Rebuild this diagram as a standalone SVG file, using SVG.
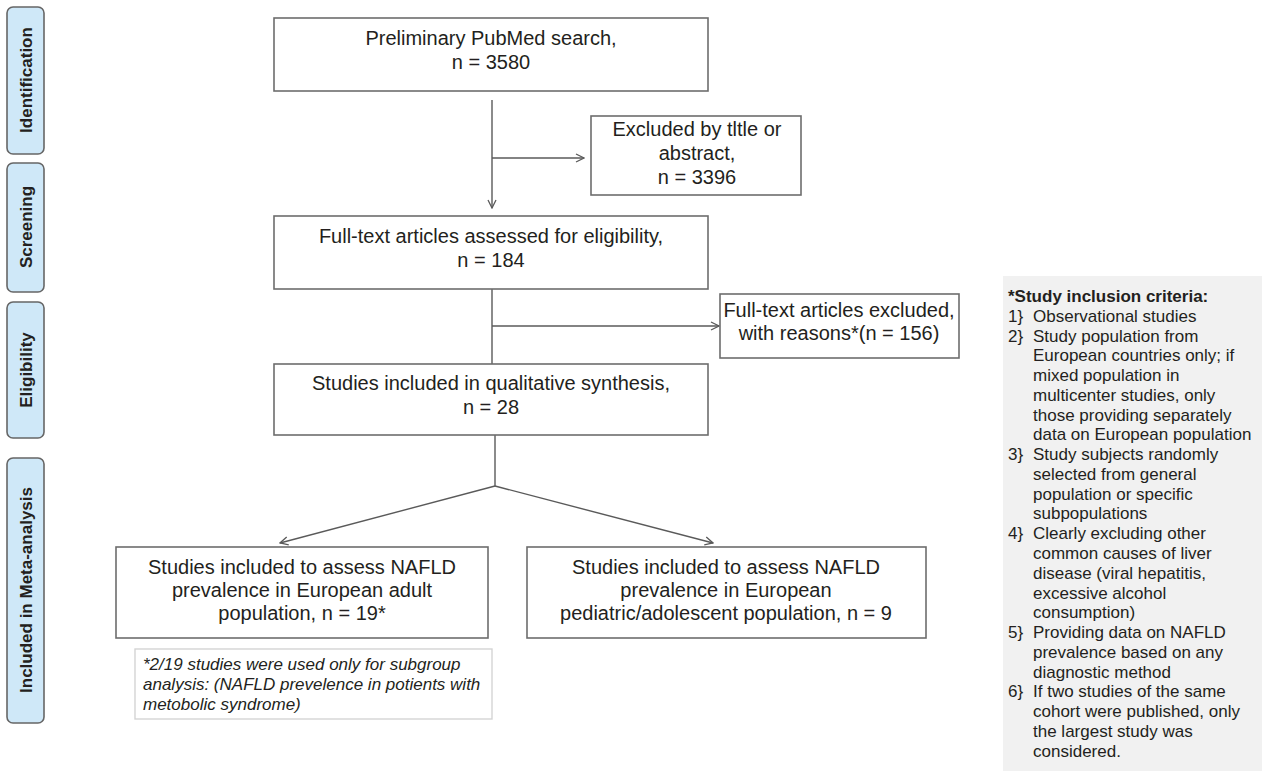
<svg xmlns="http://www.w3.org/2000/svg" width="1264" height="773" viewBox="0 0 1264 773">
<style>
text{font-family:"Liberation Sans",Arial,sans-serif;fill:#231f20}
.box{fill:#fff;stroke:#6d6d6d;stroke-width:1.6}
.t{font-size:20px;text-anchor:middle}
.side rect{fill:#cfe8f8;stroke:#666;stroke-width:1.6}
.side text{font-size:17px;font-weight:bold;text-anchor:middle}
.con{fill:none;stroke:#5a5a5a;stroke-width:1.4}
.note{fill:#fff;stroke:#d4d4d4;stroke-width:1.4}
.ni{font-size:17px;font-style:italic}
.crit{font-size:17px}
</style>
<defs>
<marker id="ah" viewBox="0 0 10 10" refX="9" refY="5" markerWidth="10" markerHeight="10" markerUnits="userSpaceOnUse" orient="auto">
<path d="M1,1 L9,5 L1,9" fill="none" stroke="#5a5a5a" stroke-width="1.3"/>
</marker>
</defs>
<rect width="1264" height="773" fill="#fff"/>

<g id="phase-identification" class="side"><rect x="7" y="7" width="37" height="147" rx="6"/><text transform="translate(32,80) rotate(-90)">Identification</text></g>
<g id="phase-screening" class="side"><rect x="7" y="163" width="37" height="129" rx="6"/><text transform="translate(32,227) rotate(-90)">Screening</text></g>
<g id="phase-eligibility" class="side"><rect x="7" y="302" width="37" height="136" rx="6"/><text transform="translate(32,370) rotate(-90)">Eligibility</text></g>
<g id="phase-included" class="side"><rect x="7" y="458" width="37" height="265" rx="6"/><text transform="translate(32,590) rotate(-90)">Included in Meta-analysis</text></g>

<g id="connectors">
<line class="con" x1="492" y1="100" x2="492" y2="208" marker-end="url(#ah)"/>
<line class="con" x1="492" y1="158" x2="584" y2="158" marker-end="url(#ah)"/>
<line class="con" x1="492" y1="289" x2="492" y2="364"/>
<line class="con" x1="492" y1="326" x2="719" y2="326" marker-end="url(#ah)"/>
<line class="con" x1="495" y1="435" x2="495" y2="486"/>
<line class="con" x1="495" y1="486" x2="280" y2="543" marker-end="url(#ah)"/>
<line class="con" x1="495" y1="486" x2="713" y2="543" marker-end="url(#ah)"/>
</g>

<g id="n-search"><rect class="box" x="274" y="18" width="434" height="73"/>
<text class="t" x="491" y="45">Preliminary PubMed search,</text><text class="t" x="491" y="69">n = 3580</text></g>

<g id="n-excluded-title"><rect class="box" x="591" y="116" width="210" height="79"/>
<text class="t" x="697" y="136">Excluded by tltle or</text><text class="t" x="697" y="160">abstract,</text><text class="t" x="697" y="184">n = 3396</text></g>

<g id="n-fulltext"><rect class="box" x="274" y="216" width="434" height="73"/>
<text class="t" x="491" y="243">Full-text articles assessed for eligibility,</text><text class="t" x="491" y="267">n = 184</text></g>

<g id="n-excluded-reasons"><rect class="box" x="720" y="294" width="239" height="64"/>
<text class="t" x="839" y="317">Full-text articles excluded,</text><text class="t" x="839" y="340">with reasons*(n = 156)</text></g>

<g id="n-qualitative"><rect class="box" x="274" y="364" width="434" height="71"/>
<text class="t" x="491" y="390">Studies included in qualitative synthesis,</text><text class="t" x="491" y="414">n = 28</text></g>

<g id="n-adult"><rect class="box" x="116" y="547" width="372" height="91"/>
<text class="t" x="302" y="574">Studies included to assess NAFLD</text><text class="t" x="302" y="597">prevalence in European adult</text><text class="t" x="302" y="620">population, n = 19*</text></g>

<g id="n-pediatric"><rect class="box" x="527" y="547" width="399" height="91"/>
<text class="t" x="726" y="574">Studies included to assess NAFLD</text><text class="t" x="726" y="597">prevalence in European</text><text class="t" x="726" y="620">pediatric/adolescent population, n = 9</text></g>

<g id="n-note"><rect class="note" x="135" y="649" width="357" height="70"/>
<text class="ni" x="143" y="670">*2/19 studies were used only for subgroup</text>
<text class="ni" x="143" y="690">analysis: (NAFLD prevelence in potients with</text>
<text class="ni" x="143" y="710">metobolic syndrome)</text></g>

<g id="n-criteria"><rect x="1003" y="276" width="259" height="495" fill="#f1f1f1"/>
<text class="crit" font-weight="bold" x="1008" y="302">*Study inclusion criteria:</text>
<g class="crit">
<text class="crit" x="1008" y="322">1}</text><text class="crit" x="1033" y="322">Observational studies</text>
<text class="crit" x="1008" y="342">2}</text><text class="crit" x="1033" y="342">Study population from</text>
<text class="crit" x="1033" y="361">European countries only; if</text>
<text class="crit" x="1033" y="381">mixed population in</text>
<text class="crit" x="1033" y="401">multicenter studies, only</text>
<text class="crit" x="1033" y="421">those providing separately</text>
<text class="crit" x="1033" y="440">data on European population</text>
<text class="crit" x="1008" y="460">3}</text><text class="crit" x="1033" y="460">Study subjects randomly</text>
<text class="crit" x="1033" y="480">selected from general</text>
<text class="crit" x="1033" y="500">population or specific</text>
<text class="crit" x="1033" y="519">subpopulations</text>
<text class="crit" x="1008" y="539">4}</text><text class="crit" x="1033" y="539">Clearly excluding other</text>
<text class="crit" x="1033" y="559">common causes of liver</text>
<text class="crit" x="1033" y="579">disease (viral hepatitis,</text>
<text class="crit" x="1033" y="599">excessive alcohol</text>
<text class="crit" x="1033" y="618">consumption)</text>
<text class="crit" x="1008" y="638">5}</text><text class="crit" x="1033" y="638">Providing data on NAFLD</text>
<text class="crit" x="1033" y="658">prevalence based on any</text>
<text class="crit" x="1033" y="678">diagnostic method</text>
<text class="crit" x="1008" y="697">6}</text><text class="crit" x="1033" y="697">If two studies of the same</text>
<text class="crit" x="1033" y="717">cohort were published, only</text>
<text class="crit" x="1033" y="737">the largest study was</text>
<text class="crit" x="1033" y="757">considered.</text>
</g></g>
</svg>
